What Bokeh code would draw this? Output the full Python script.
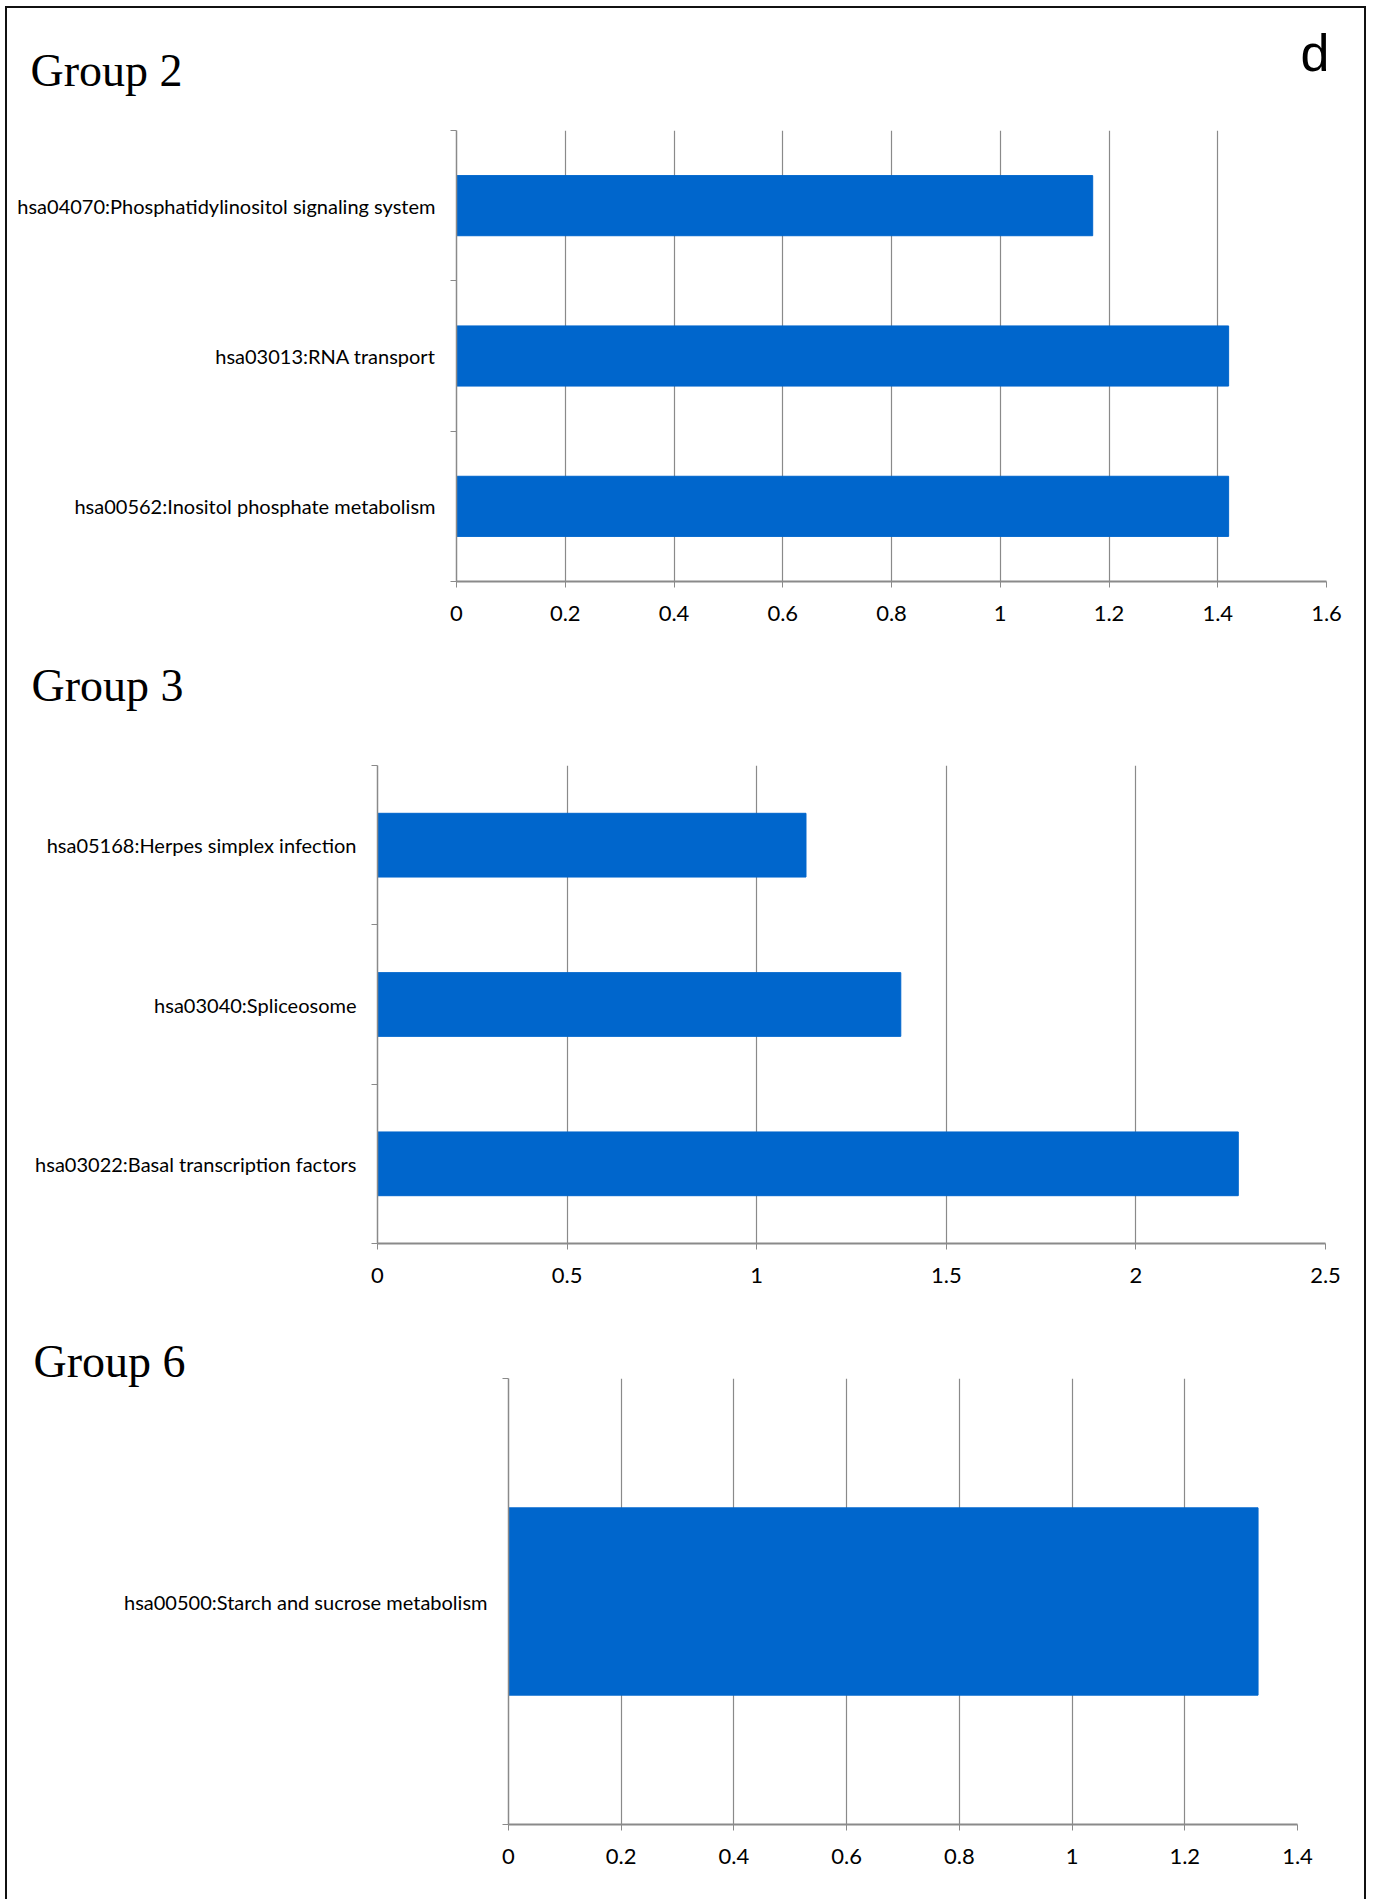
from bokeh.plotting import figure
from bokeh.models import Label, FixedTicker, Range1d, Title
from bokeh.layouts import column
from bokeh.embed import file_html
from bokeh.resources import INLINE

# ---------------- data ----------------
g2_terms = ["hsa04070:Phosphatidylinositol signaling system",
            "hsa03013:RNA transport",
            "hsa00562:Inositol phosphate metabolism"]
g2_values = [1.17, 1.42, 1.42]
g2_xticks = [0, 0.2, 0.4, 0.6, 0.8, 1, 1.2, 1.4, 1.6]

g3_terms = ["hsa05168:Herpes simplex infection",
            "hsa03040:Spliceosome",
            "hsa03022:Basal transcription factors"]
g3_values = [1.13, 1.38, 2.27]
g3_xticks = [0, 0.5, 1, 1.5, 2, 2.5]

g6_terms = ["hsa00500:Starch and sucrose metabolism"]
g6_values = [1.33]
g6_xticks = [0, 0.2, 0.4, 0.6, 0.8, 1, 1.2, 1.4]

panel_titles = ["Group 2", "Group 3", "Group 6"]
panel_letter = "d"

BAR = "#0066CC"
GRID = "#8a8a8a"
LABEL_FONT = "Lato"
TITLE_FONT = "Liberation Serif"
W = 1357


def strip(height, labels):
    """A text-only strip whose frame covers the whole canvas (pixel ranges)."""
    s = figure(width=W, height=height, output_backend="svg",
               toolbar_location=None, x_range=Range1d(0, W),
               y_range=Range1d(height, 0), min_border=0)
    s.axis.visible = False
    s.grid.visible = False
    s.outline_line_color = None
    for (txt, x, y, font, size) in labels:
        s.add_layout(Label(x=x, y=y, text=txt, text_font=font,
                           text_font_size=size, text_baseline="alphabetic",
                           text_color="black"))
    return s


def panel(terms, values, xticks, height, left, right, top, bottom, bar_frac):
    n = len(terms)
    centers = [n - i - 0.5 for i in range(n)]
    p = figure(width=W, height=height, output_backend="svg",
               toolbar_location=None,
               x_range=Range1d(0, xticks[-1]), y_range=Range1d(0, n),
               min_border_left=left, min_border_right=right,
               min_border_top=top, min_border_bottom=bottom)
    p.hbar(y=centers, right=values, left=0, height=bar_frac,
           fill_color=BAR, line_color=BAR)
    p.outline_line_color = None

    xa = p.xaxis[0]
    xa.ticker = FixedTicker(ticks=xticks, minor_ticks=[])
    xa.major_label_overrides = {t: f"{t:g}" for t in xticks}
    xa.axis_line_color = GRID
    xa.axis_line_width = 2
    xa.major_tick_line_color = GRID
    xa.major_tick_out = 6
    xa.major_tick_in = 0
    xa.major_label_standoff = 18
    xa.major_label_text_font = LABEL_FONT
    xa.major_label_text_font_size = "22px"
    xa.major_label_text_color = "black"

    ya = p.yaxis[0]
    ya.ticker = FixedTicker(ticks=centers, minor_ticks=list(range(n + 1)))
    ya.major_label_overrides = {c: t for c, t in zip(centers, terms)}
    ya.axis_line_color = GRID
    ya.axis_line_width = 1.5
    ya.major_tick_out = 0
    ya.major_tick_in = 0
    ya.minor_tick_out = 6
    ya.minor_tick_in = 0
    ya.minor_tick_line_color = GRID
    ya.major_label_standoff = 15
    ya.major_label_text_font = LABEL_FONT
    ya.major_label_text_font_size = "20px"
    ya.major_label_text_color = "black"

    p.xgrid.ticker = FixedTicker(ticks=xticks, minor_ticks=[])
    p.xgrid.grid_line_color = GRID
    p.xgrid.grid_line_width = 1.2
    p.ygrid.visible = False
    return p


def box(child, first=False):
    st = {"border-left": "2px solid #111", "border-right": "2px solid #111"}
    if first:
        st["border-top"] = "2px solid #111"
    return column(child, margin=(6 if first else 0, 0, 0, 5), styles=st)


s1 = strip(102, [(panel_titles[0], 23, 62, TITLE_FONT, "46px"),
                 (panel_letter, 1293, 44, "Liberation Sans", "52px")])
p1 = panel(g2_terms, g2_values, g2_xticks, 540, 449, 38, 20, 69, 0.40)

s2 = strip(90, [(panel_titles[1], 24, 35, TITLE_FONT, "46px")])
p2 = panel(g3_terms, g3_values, g3_xticks, 580, 370, 39, 25, 77, 0.40)

p3 = panel(g6_terms, g6_values, g6_xticks, 579, 501, 67, 58, 75, 0.42)
p3.add_layout(Title(text=panel_titles[2], align="left", offset=-475,
                    vertical_align="bottom", standoff=-16,
                    text_font=TITLE_FONT, text_font_size="46px",
                    text_font_style="normal", text_color="black"), "above")

roots = [box(s1, first=True), box(p1), box(s2), box(p2), box(p3)]
open("out.html", "w").write(file_html(roots, INLINE))
